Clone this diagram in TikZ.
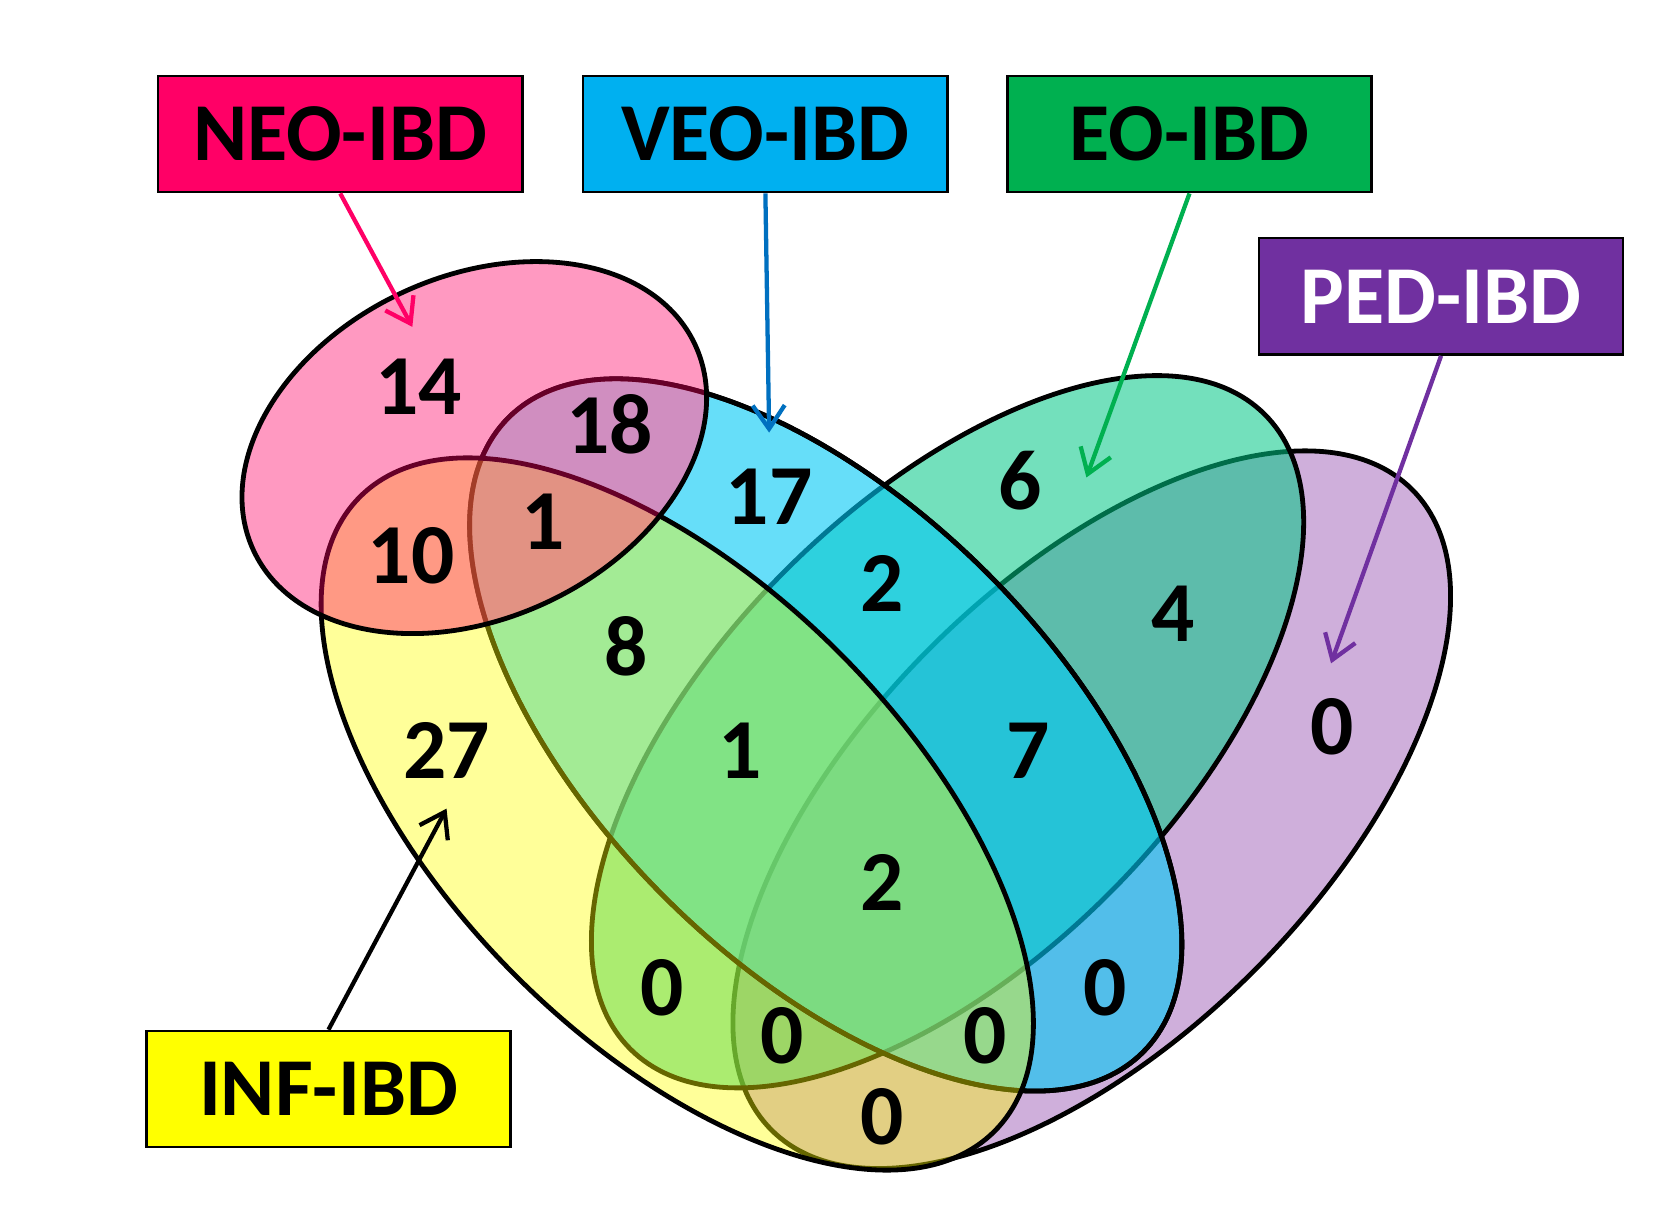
\documentclass[tikz,border=0pt]{standalone}
\usepackage{fontspec}
\setmainfont{Carlito}
\usetikzlibrary{arrows.meta}
\definecolor{cP}{RGB}{135,55,165}
\definecolor{cG}{RGB}{0,199,133}
\definecolor{cB}{RGB}{0,200,245}
\definecolor{cY}{RGB}{255,255,0}
\definecolor{cK}{RGB}{255,0,102}
\definecolor{bNEO}{RGB}{255,0,102}
\definecolor{bVEO}{RGB}{0,176,240}
\definecolor{bEO}{RGB}{0,176,80}
\definecolor{bPED}{RGB}{112,48,160}
\definecolor{bINF}{RGB}{255,255,0}
\definecolor{aVEO}{RGB}{0,112,192}
\begin{document}
\begin{tikzpicture}[x=1pt,y=1pt,
  venn/.style={line width=4.5pt, draw=black},
  lbl/.style={draw=black, line width=2.2pt, minimum width=341pt, minimum height=109pt, inner sep=0pt, font=\fontsize{77}{77}\selectfont\bfseries},
  num/.style={font=\fontsize{80}{80}\selectfont\bfseries, inner sep=0pt},
  arr/.style={line width=4pt, -{Straight Barb[length=22pt, width=30pt, line width=4pt]}}
]
\useasboundingbox (0,0) rectangle (1568,1151);
\fill[white] (0,0) rectangle (1568,1151);
% ellipses, bottom to top
\draw[venn, fill=cP, fill opacity=0.4] (1022,393) ellipse [x radius=424pt, y radius=214pt, rotate=45];
\draw[venn, fill=cG, fill opacity=0.55] (887,466) ellipse [x radius=420pt, y radius=214pt, rotate=45];
\draw[venn, fill=cB, fill opacity=0.6] (773,463) ellipse [x radius=420pt, y radius=214pt, rotate=-45];
% lighten the part of the VEO ellipse that lies under the NEO ellipse
\begin{scope}
  \clip (444,732) ellipse [x radius=228pt, y radius=160pt, rotate=25];
  \clip (773,463) ellipse [x radius=420pt, y radius=214pt, rotate=-45];
  \fill[white, fill opacity=0.5] (0,0) rectangle (1568,1151);
\end{scope}
\draw[venn] (773,463) ellipse [x radius=420pt, y radius=214pt, rotate=-45];
\draw[venn, fill=cY, fill opacity=0.4] (634,389) ellipse [x radius=420pt, y radius=214pt, rotate=-45];
\draw[venn, fill=cK, fill opacity=0.4] (444,732) ellipse [x radius=228pt, y radius=160pt, rotate=25];
% labels
\node[lbl, fill=bNEO] (neo) at (318.5,1025.5) {NEO-IBD};
\node[lbl, fill=bVEO] (veo) at (716.5,1025.5) {VEO-IBD};
\node[lbl, fill=bEO] (eo) at (1113.5,1025.5) {EO-IBD};
\node[lbl, fill=bPED, text=white] (ped) at (1349,873.5) {PED-IBD};
\node[lbl, fill=bINF] (inf) at (307.5,131.5) {INF-IBD};
% numbers
\node[num] (n14) at (392,789) {14};
\node[num] (n18) at (571,754) {18};
\node[num] (n1a) at (508,663) {1};
\node[num] (n10) at (385,631) {10};
\node[num] (n17) at (720,686) {17};
\node[num] (n2a) at (826,605) {2};
\node[num] (n6) at (955,701) {6};
\node[num] (n4) at (1098,576) {4};
\node[num] (n8) at (586,546) {8};
\node[num] (n27) at (418,448) {27};
\node[num] (n1b) at (693,448) {1};
\node[num] (n7) at (962,448) {7};
\node[num] (n0p) at (1247,471) {0};
\node[num] (n2b) at (826,325) {2};
\node[num] (n0l) at (620,226) {0};
\node[num] (n0b) at (1035,226) {0};
\node[num] (n0o) at (732,181) {0};
\node[num] (n0g) at (922,181) {0};
\node[num] (n0t) at (826,106) {0};
% arrow targets
\coordinate (tneo) at (386,845);
\coordinate (tveo) at (720,746);
\coordinate (teo) at (1017,704);
\coordinate (tped) at (1246,530);
\coordinate (tinf) at (418,394);
\draw[arr, draw=bNEO] (neo.south) -- (tneo);
\draw[arr, draw=aVEO] (veo.south) -- (tveo);
\draw[arr, draw=bEO] (eo.south) -- (teo);
\draw[arr, draw=bPED] (ped.south) -- (tped);
\draw[arr, draw=black] (inf.north) -- (tinf);
\end{tikzpicture}
\end{document}
